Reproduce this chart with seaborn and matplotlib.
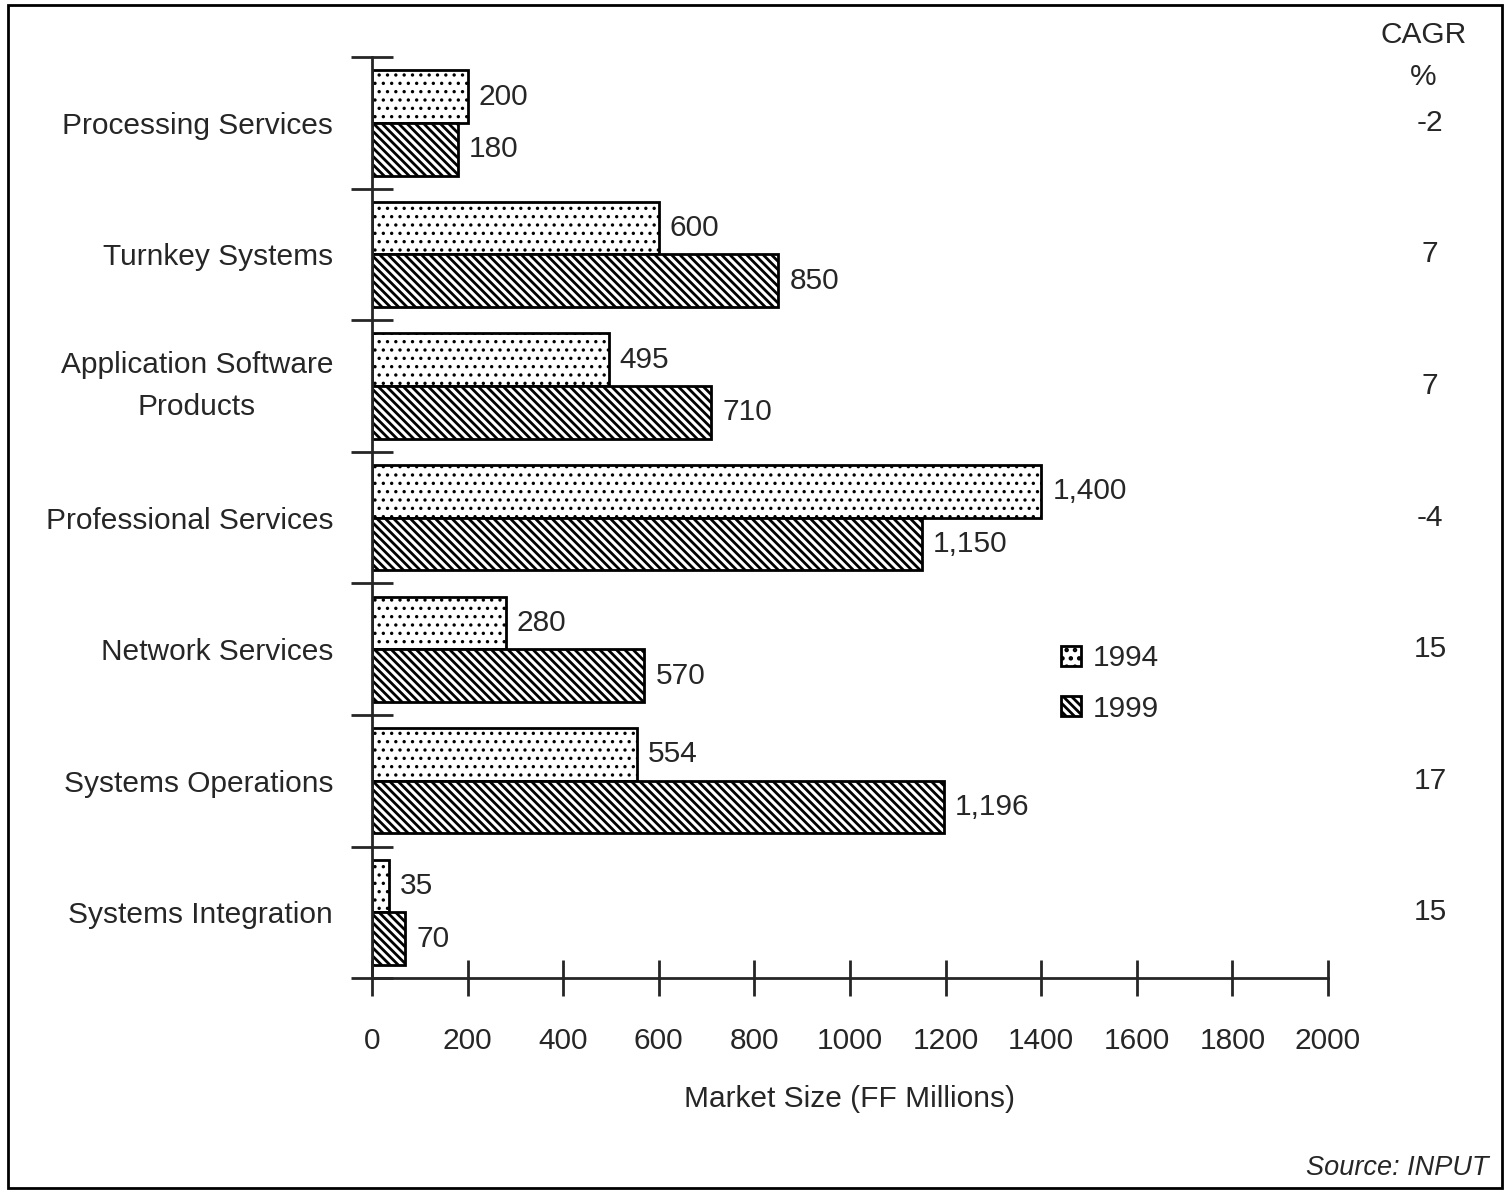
import pandas as pd
import numpy as np
import matplotlib
matplotlib.use('Agg')
import matplotlib.pyplot as plt
import seaborn as sns
from matplotlib.patches import Rectangle, Patch
from matplotlib.ticker import FixedLocator

sns.set_style('ticks')
plt.rcParams['font.family'] = ['Liberation Sans', 'DejaVu Sans']
plt.rcParams['hatch.linewidth'] = 2.0

categories = ['Processing Services', 'Turnkey Systems', 'Application Software\nProducts',
              'Professional Services', 'Network Services', 'Systems Operations',
              'Systems Integration']
market_1994 = [200, 600, 495, 1400, 280, 554, 35]
market_1999 = [180, 850, 710, 1150, 570, 1196, 70]
cagr = ['-2', '7', '7', '-4', '15', '17', '15']
years = ['1994', '1999']
hatches = ['..', '\\\\\\\\']
hatch_lw = [1.2, 2.0]

FS = 21.5

df = pd.DataFrame({
    'category': categories * 2,
    'year': [years[0]] * len(categories) + [years[1]] * len(categories),
    'value': market_1994 + market_1999,
})

fig = plt.figure(figsize=(15.07, 11.9), dpi=100)
ax = fig.add_axes([0.2468, 0.178, 0.6344, 0.774])

sns.barplot(data=df, y='category', x='value', hue='year', order=categories,
            hue_order=years, palette={'1994': 'white', '1999': 'white'},
            edgecolor='black', linewidth=2, width=0.8, ax=ax, legend=False)

for cont, h, hl in zip(ax.containers, hatches, hatch_lw):
    for bar in cont:
        bar.set_hatch(h)
        if hasattr(bar, 'set_hatch_linewidth'):
            bar.set_hatch_linewidth(hl)
        bar.set_facecolor('white')
        bar.set_edgecolor('black')
    ax.bar_label(cont, labels=[f'{v:,.0f}' for v in cont.datavalues],
                 padding=8, fontsize=FS)

ax.set_xlim(0, 2000)
ax.set_ylim(len(categories) - 0.5, -0.5)
ax.set_xticks(np.arange(0, 2001, 200))
ax.yaxis.set_minor_locator(FixedLocator(np.arange(-0.5, len(categories), 1.0)))
ax.tick_params(axis='x', direction='inout', length=26, width=2, labelsize=FS, pad=22)
ax.tick_params(axis='y', which='major', length=0, labelsize=FS, pad=28)
ax.tick_params(axis='y', which='minor', direction='inout', length=30, width=2)
for lab in ax.get_yticklabels():
    lab.set_multialignment('center')
    lab.set_linespacing(1.6)
    if '\n' in lab.get_text():
        lab.set_va('center')

ax.set_xlabel('Market Size (FF Millions)', fontsize=FS, labelpad=22)
ax.set_ylabel('')
sns.despine(ax=ax)
ax.spines['left'].set_linewidth(2)
ax.spines['bottom'].set_linewidth(2)

# CAGR column
tr = ax.get_yaxis_transform()
ax.text(1.1, -0.5 - 0.17, 'CAGR', transform=tr, ha='center', va='center', fontsize=FS)
ax.text(1.1, -0.5 + 0.15, '%', transform=tr, ha='center', va='center', fontsize=FS)
for i, c in enumerate(cagr):
    ax.text(1.107, i, c, transform=tr, ha='center', va='center', fontsize=FS)

handles = [Patch(facecolor='white', edgecolor='black', hatch=h, linewidth=2) for h in hatches]
ax.legend(handles, years, loc='center left', bbox_to_anchor=(0.693, 0.32), frameon=False,
          fontsize=FS, handlelength=0.65, handleheight=0.65, handletextpad=0.4,
          labelspacing=0.75)

fig.text(0.988, 0.0185, 'Source: INPUT', ha='right', va='center', fontsize=19.5, style='italic')
fig.patches.append(Rectangle((0.0053, 0.0017), 0.9914, 0.994, transform=fig.transFigure,
                             fill=False, edgecolor='black', linewidth=2))

fig.savefig('out.png', dpi=100)
